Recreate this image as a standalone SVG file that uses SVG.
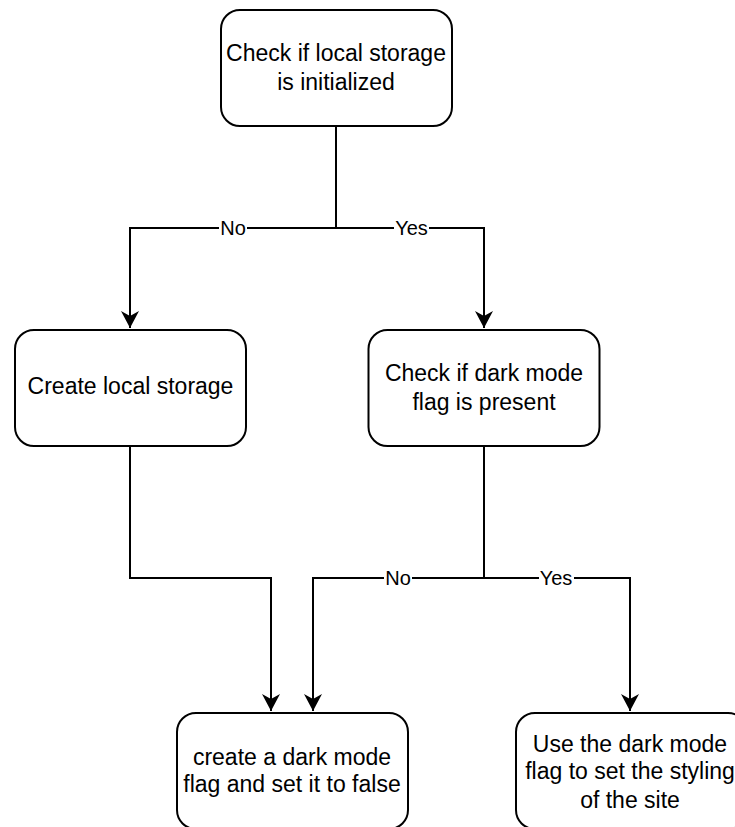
<svg xmlns="http://www.w3.org/2000/svg" width="735" height="827" viewBox="0 0 735 827">
<style>
.box{fill:#fff;stroke:#000;stroke-width:2}
.t{font-family:"Liberation Sans",Arial,sans-serif;font-size:23px;fill:#000;text-anchor:middle}
.e{fill:none;stroke:#000;stroke-width:2}
.lb{font-family:"Liberation Sans",Arial,sans-serif;font-size:20px;fill:#000;text-anchor:middle;dominant-baseline:central}
.lbg{fill:#fff}
</style>
<defs>
<marker id="arr" markerUnits="userSpaceOnUse" markerWidth="20" markerHeight="20" viewBox="0 0 20 20" refX="17" refY="10" orient="auto">
<path d="M0,1 L17,10 L0,19 L5,10 Z" fill="#000"/>
</marker>
</defs>
<rect width="735" height="827" fill="#fff"/>
<g id="connectors">
<path class="e" d="M336,126 V228 H130 V328" marker-end="url(#arr)"/>
<path class="e" d="M336,228 H484 V328" marker-end="url(#arr)"/>
<path class="e" d="M130,446 V578 H271 V711" marker-end="url(#arr)"/>
<path class="e" d="M484,446 V578 H313 V711" marker-end="url(#arr)"/>
<path class="e" d="M484,578 H630 V711" marker-end="url(#arr)"/>
<rect class="lbg" x="219" y="218" width="28" height="20"/>
<text class="lb" x="233" y="228">No</text>
<rect class="lbg" x="394" y="218" width="35" height="20"/>
<text class="lb" x="411.5" y="228">Yes</text>
<rect class="lbg" x="384" y="568" width="28" height="20"/>
<text class="lb" x="398" y="578">No</text>
<rect class="lbg" x="539" y="568" width="35" height="20"/>
<text class="lb" x="556" y="578">Yes</text>
</g>
<g id="n1">
<rect class="box" x="221" y="10" width="231" height="116" rx="19" ry="19"/>
<text class="t" x="336" y="61">Check if local storage</text>
<text class="t" x="336" y="90">is initialized</text>
</g>
<g id="n2">
<rect class="box" x="15" y="330" width="231" height="116" rx="19" ry="19"/>
<text class="t" x="130.5" y="394">Create local storage</text>
</g>
<g id="n3">
<rect class="box" x="368.5" y="330" width="231" height="116" rx="19" ry="19"/>
<text class="t" x="484" y="381">Check if dark mode</text>
<text class="t" x="484" y="410">flag is present</text>
</g>
<g id="n4">
<rect class="box" x="177" y="713" width="231" height="116" rx="19" ry="19"/>
<text class="t" x="292" y="765">create a dark mode</text>
<text class="t" x="292" y="792">flag and set it to false</text>
</g>
<g id="n5">
<rect class="box" x="516" y="713" width="231" height="116" rx="19" ry="19"/>
<text class="t" x="630" y="751.5">Use the dark mode</text>
<text class="t" x="630" y="779">flag to set the styling</text>
<text class="t" x="630" y="807.5">of the site</text>
</g>
</svg>
